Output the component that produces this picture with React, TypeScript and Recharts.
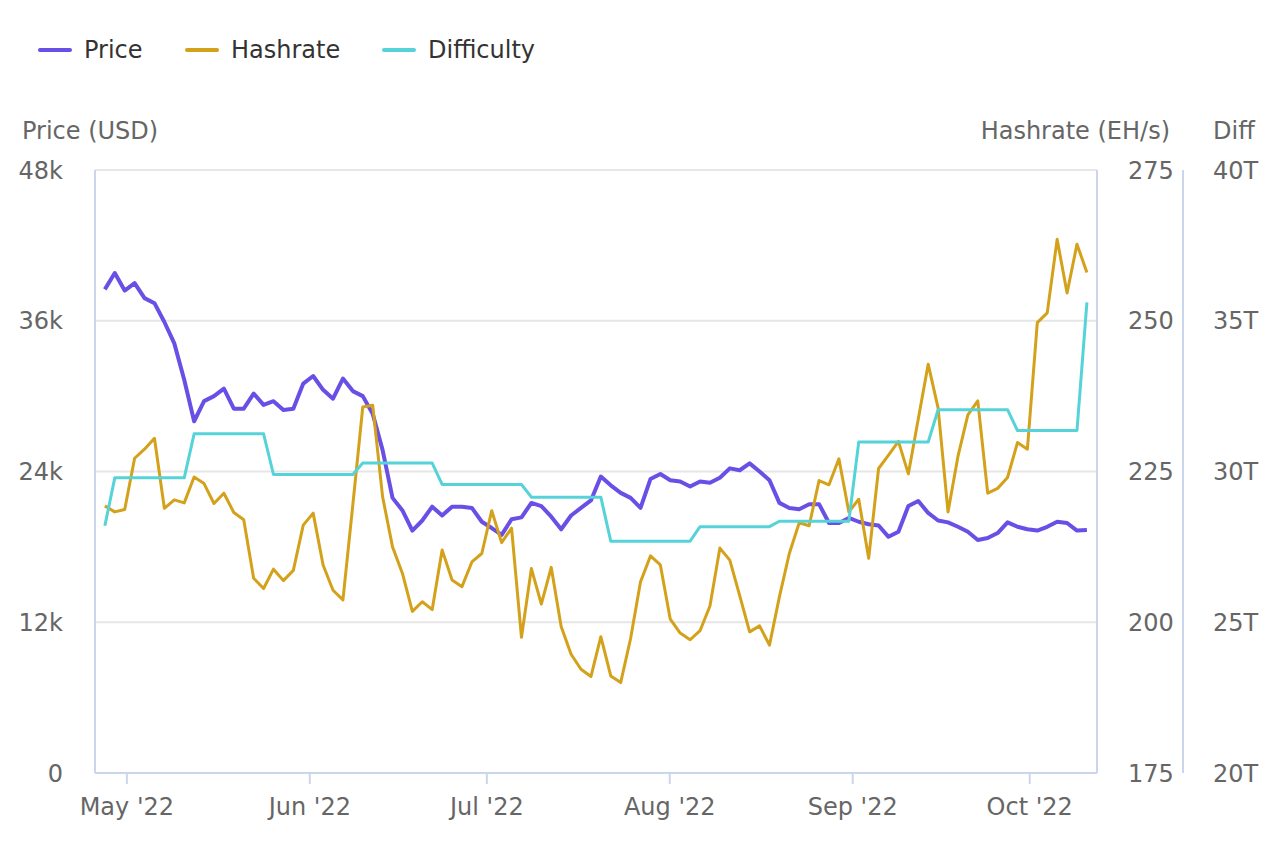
import React from "react";
import { LineChart, Line, XAxis, YAxis, CartesianGrid } from "recharts";

// BTC price, in thousands of USD
const priceK = [
  38.5, 39.8, 38.4, 39.0, 37.8, 37.4, 35.9, 34.2, 31.3, 28.0,
  29.6, 30.0, 30.6, 29.0, 29.0, 30.2, 29.3, 29.6, 28.9, 29.0,
  31.0, 31.6, 30.5, 29.8, 31.4, 30.4, 30.0, 28.6, 25.7, 21.9,
  20.9, 19.3, 20.1, 21.2, 20.5, 21.2, 21.2, 21.1, 20.0, 19.5,
  18.95, 20.2, 20.35, 21.5, 21.25, 20.4, 19.4, 20.5, 21.1, 21.7,
  23.6, 22.9, 22.3, 21.9, 21.1, 23.4, 23.8, 23.3, 23.2, 22.8,
  23.2, 23.1, 23.5, 24.25, 24.1, 24.65, 24.0, 23.3, 21.5, 21.1,
  21.0, 21.4, 21.4, 19.9, 19.9, 20.3, 20.0, 19.8, 19.7, 18.8,
  19.2, 21.25, 21.65, 20.7, 20.1, 19.95, 19.6, 19.2, 18.55, 18.7,
  19.1, 19.95, 19.6, 19.4, 19.3, 19.6, 20.0, 19.9, 19.3, 19.35,
];

// network hashrate, EH/s
const hashrate = [
  219.3, 218.3, 218.7, 227.2, 228.7, 230.5, 218.9, 220.3, 219.8, 224.1,
  223.0, 219.7, 221.4, 218.2, 217.0, 207.3, 205.6, 208.8, 206.9, 208.6,
  216.1, 218.1, 209.5, 205.3, 203.7, 219.5, 235.7, 236.0, 220.8, 212.5,
  208.1, 201.8, 203.4, 202.1, 212.0, 207.0, 205.9, 210.0, 211.4, 218.5,
  213.2, 215.6, 197.5, 208.9, 203.0, 209.1, 199.3, 194.7, 192.2, 191.0,
  197.6, 191.1, 190.0, 197.3, 206.7, 211.0, 209.5, 200.5, 198.2, 197.1,
  198.6, 202.7, 212.3, 210.3, 204.4, 198.4, 199.4, 196.2, 204.2, 211.4,
  216.5, 216.0, 223.5, 222.8, 227.1, 218.3, 220.4, 210.6, 225.5, 227.7,
  230.0, 224.6, 233.7, 242.8, 235.5, 218.3, 227.5, 234.4, 236.7, 221.4,
  222.2, 224.0, 229.8, 228.7, 249.7, 251.3, 263.5, 254.6, 262.7, 258.0,
];

// mining difficulty, T
const difficulty = [
  28.2, 29.79, 29.79, 29.79, 29.79, 29.79, 29.79, 29.79, 29.79, 31.25,
  31.25, 31.25, 31.25, 31.25, 31.25, 31.25, 31.25, 29.9, 29.9, 29.9,
  29.9, 29.9, 29.9, 29.9, 29.9, 29.9, 30.28, 30.28, 30.28, 30.28,
  30.28, 30.28, 30.28, 30.28, 29.57, 29.57, 29.57, 29.57, 29.57, 29.57,
  29.57, 29.57, 29.57, 29.15, 29.15, 29.15, 29.15, 29.15, 29.15, 29.15,
  29.15, 27.69, 27.69, 27.69, 27.69, 27.69, 27.69, 27.69, 27.69, 27.69,
  28.17, 28.17, 28.17, 28.17, 28.17, 28.17, 28.17, 28.17, 28.35, 28.35,
  28.35, 28.35, 28.35, 28.35, 28.35, 28.35, 30.98, 30.98, 30.98, 30.98,
  30.98, 30.98, 30.98, 30.98, 32.05, 32.05, 32.05, 32.05, 32.05, 32.05,
  32.05, 32.05, 31.36, 31.36, 31.36, 31.36, 31.36, 31.36, 31.36, 35.61,
];

// day of year (2022) of each month start, and its label
const monthStarts = [121, 152, 182, 213, 244, 274];
const monthLabels = ["May '22", "Jun '22", "Jul '22", "Aug '22", "Sep '22", "Oct '22"];

const priceTicks = [0, 12000, 24000, 36000, 48000];
const hashTicks = [175, 200, 225, 250, 275];
const diffTicks = [20, 25, 30, 35, 40];

// samples are ~1.68 days apart, the first one on 27 Apr (day 117)
const FIRST_DAY = 117.27;
const STEP_DAYS = 1.681;

const data = priceK.map((p, i) => ({
  day: FIRST_DAY + i * STEP_DAYS,
  price: p * 1000,
  hashrate: hashrate[i],
  difficulty: difficulty[i],
}));

const COLORS = { price: "#6a4fe6", hashrate: "#d4a11a", difficulty: "#55d3d8" };
const FONT = "'DejaVu Sans', sans-serif";
const axisColor = "#ccd6eb";
const tickStyle = { fill: "#666666", fontSize: 24, fontFamily: FONT };

const legendItems = [
  { name: "Price", color: COLORS.price, left: 38 },
  { name: "Hashrate", color: COLORS.hashrate, left: 185 },
  { name: "Difficulty", color: COLORS.difficulty, left: 382 },
];

const titleStyle: React.CSSProperties = {
  position: "absolute",
  top: 119,
  fontSize: 24,
  lineHeight: "24px",
  color: "#666666",
  fontFamily: FONT,
  whiteSpace: "nowrap",
};

// axis ids: right axes are stacked outwards in id order, so hashrate ("r1") sits next to the plot
const PRICE_AXIS = "l1";
const HASH_AXIS = "r1";
const DIFF_AXIS = "r2";

export default function App() {
  return (
    <div style={{ position: "absolute", left: 0, top: 0, width: 1280, height: 853, background: "#fff" }}>
      {legendItems.map((it) => (
        <div
          key={it.name}
          style={{
            position: "absolute",
            left: it.left,
            top: 38,
            height: 24,
            display: "flex",
            alignItems: "center",
            fontFamily: FONT,
            fontSize: 24,
            color: "#333333",
          }}
        >
          <span style={{ width: 34, height: 4, background: it.color, marginRight: 12, borderRadius: 2 }} />
          <span>{it.name}</span>
        </div>
      ))}

      <div style={{ ...titleStyle, left: 22 }}>Price (USD)</div>
      <div style={{ ...titleStyle, right: 110, textAlign: "right" }}>Hashrate (EH/s)</div>
      <div style={{ ...titleStyle, left: 1213 }}>Diff</div>

      <LineChart
        width={1280}
        height={853}
        data={data}
        margin={{ top: 170, right: 0, bottom: 0, left: 0 }}
        style={{ fontFamily: FONT }}
      >
        <CartesianGrid yAxisId={PRICE_AXIS} vertical={false} stroke="#e6e6e6" strokeWidth={2} />
        <XAxis
          dataKey="day"
          type="number"
          domain={[115.6, 285.4]}
          ticks={monthStarts}
          interval={0}
          tickFormatter={(v: number) => monthLabels[monthStarts.indexOf(v)]}
          height={80}
          tickSize={11}
          tickMargin={14}
          tick={tickStyle}
          tickLine={{ stroke: axisColor, strokeWidth: 2 }}
          axisLine={{ stroke: axisColor, strokeWidth: 2 }}
        />
        <YAxis
          yAxisId={PRICE_AXIS}
          orientation="left"
          width={95}
          domain={[0, 48000]}
          ticks={priceTicks}
          interval={0}
          tickFormatter={(v: number) => (v === 0 ? "0" : `${v / 1000}k`)}
          tickSize={0}
          tickMargin={32}
          tickLine={false}
          tick={tickStyle}
          axisLine={{ stroke: axisColor, strokeWidth: 2 }}
        />
        <YAxis
          yAxisId={HASH_AXIS}
          orientation="right"
          width={86}
          domain={[175, 275]}
          ticks={hashTicks}
          interval={0}
          tickSize={0}
          tickMargin={31}
          tickLine={false}
          tick={tickStyle}
          axisLine={{ stroke: axisColor, strokeWidth: 2 }}
        />
        <YAxis
          yAxisId={DIFF_AXIS}
          orientation="right"
          width={97}
          domain={[20, 40]}
          ticks={diffTicks}
          interval={0}
          tickFormatter={(v: number) => `${v}T`}
          tickSize={0}
          tickMargin={30}
          tickLine={false}
          tick={tickStyle}
          axisLine={{ stroke: axisColor, strokeWidth: 2 }}
        />
        <Line
          yAxisId={PRICE_AXIS}
          type="linear"
          dataKey="price"
          stroke={COLORS.price}
          strokeWidth={4}
          dot={false}
          activeDot={false}
          isAnimationActive={false}
          strokeLinejoin="round"
        />
        <Line
          yAxisId={HASH_AXIS}
          type="linear"
          dataKey="hashrate"
          stroke={COLORS.hashrate}
          strokeWidth={3}
          dot={false}
          activeDot={false}
          isAnimationActive={false}
          strokeLinejoin="round"
        />
        <Line
          yAxisId={DIFF_AXIS}
          type="linear"
          dataKey="difficulty"
          stroke={COLORS.difficulty}
          strokeWidth={3}
          dot={false}
          activeDot={false}
          isAnimationActive={false}
          strokeLinejoin="round"
        />
      </LineChart>
    </div>
  );
}
